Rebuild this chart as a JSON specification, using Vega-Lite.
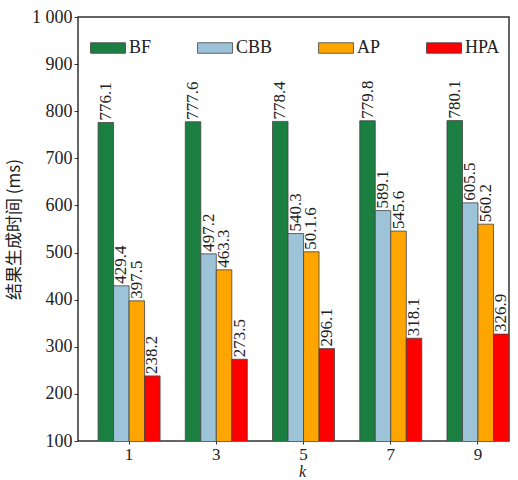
{
  "$schema": "https://vega.github.io/schema/vega-lite/v6.json",
  "autosize": "none",
  "width": 431,
  "height": 424,
  "padding": {"left": 78, "top": 17, "right": 9, "bottom": 39},
  "background": "white",
  "config": {
    "font": "Times New Roman, Liberation Serif, serif",
    "view": {"stroke": "#333333", "strokeWidth": 1.5},
    "axis": {"domain": false, "grid": false, "labelFont": "Times New Roman, Liberation Serif, serif", "labelFontSize": 18, "labelColor": "#222222", "tickColor": "#333333", "titleColor": "#222222"}
  },
  "data": {
    "values": [
      {"k": "1", "method": "BF", "time": 776.1, "label": "776.1"},
      {"k": "1", "method": "CBB", "time": 429.4, "label": "429.4"},
      {"k": "1", "method": "AP", "time": 397.5, "label": "397.5"},
      {"k": "1", "method": "HPA", "time": 238.2, "label": "238.2"},
      {"k": "3", "method": "BF", "time": 777.6, "label": "777.6"},
      {"k": "3", "method": "CBB", "time": 497.2, "label": "497.2"},
      {"k": "3", "method": "AP", "time": 463.3, "label": "463.3"},
      {"k": "3", "method": "HPA", "time": 273.5, "label": "273.5"},
      {"k": "5", "method": "BF", "time": 778.4, "label": "778.4"},
      {"k": "5", "method": "CBB", "time": 540.3, "label": "540.3"},
      {"k": "5", "method": "AP", "time": 501.6, "label": "50.1.6"},
      {"k": "5", "method": "HPA", "time": 296.1, "label": "296.1"},
      {"k": "7", "method": "BF", "time": 779.8, "label": "779.8"},
      {"k": "7", "method": "CBB", "time": 589.1, "label": "589.1"},
      {"k": "7", "method": "AP", "time": 545.6, "label": "545.6"},
      {"k": "7", "method": "HPA", "time": 318.1, "label": "318.1"},
      {"k": "9", "method": "BF", "time": 780.1, "label": "780.1"},
      {"k": "9", "method": "CBB", "time": 605.5, "label": "605.5"},
      {"k": "9", "method": "AP", "time": 560.2, "label": "560.2"},
      {"k": "9", "method": "HPA", "time": 326.9, "label": "326.9"}
    ]
  },
  "encoding": {
    "x": {
      "field": "k", "type": "nominal", "sort": ["1", "3", "5", "7", "9"],
      "scale": {"paddingInner": 0.289, "paddingOuter": 0.115, "align": 1},
      "axis": {"labelAngle": 0, "tickSize": 3, "labelPadding": 2, "labelFontSize": 17, "title": "k", "titleFont": "Times New Roman, Liberation Serif, serif", "titleFontStyle": "italic", "titleFontWeight": "normal", "titleFontSize": 16, "titleX": 224, "titleY": 22, "titleBaseline": "top", "titleAlign": "center"}
    },
    "xOffset": {"field": "method", "type": "nominal", "sort": ["BF", "CBB", "AP", "HPA"]},
    "y": {
      "field": "time", "type": "quantitative",
      "scale": {"domain": [100, 1000], "nice": false, "zero": false},
      "axis": {"values": [100, 200, 300, 400, 500, 600, 700, 800, 900, 1000], "tickSize": 4, "labelPadding": 2, "labelExpr": "datum.value == 1000 ? '1 000' : datum.label", "title": "结果生成时间 (ms)", "titleFont": "Noto Sans CJK SC", "titleFontWeight": "normal", "titleFontSize": 17, "titlePadding": 8}
    }
  },
  "layer": [
    {
      "mark": {"type": "bar", "stroke": "#444444", "strokeWidth": 0.8, "clip": true},
      "encoding": {
        "color": {
          "field": "method", "type": "nominal",
          "scale": {"domain": ["BF", "CBB", "AP", "HPA"], "range": ["#1b7f42", "#9cc3d8", "#ffa500", "#ff0000"]},
          "legend": {
            "title": null, "orient": "none", "direction": "horizontal", "legendX": 12, "legendY": 13,
            "symbolType": "M-1,-0.3L1,-0.3L1,0.3L-1,0.3Z", "symbolSize": 1225, "symbolStrokeColor": "#444444", "symbolStrokeWidth": 0.8,
            "labelFont": "Times New Roman, Liberation Serif, serif", "labelFontSize": 18, "labelColor": "#222222", "labelOffset": 3, "columnPadding": 43
          }
        }
      }
    },
    {
      "mark": {"type": "text", "angle": 270, "align": "left", "baseline": "middle", "dx": 2, "font": "Times New Roman, Liberation Serif, serif", "fontSize": 17, "color": "#222222"},
      "encoding": {"text": {"field": "label"}}
    }
  ]
}
